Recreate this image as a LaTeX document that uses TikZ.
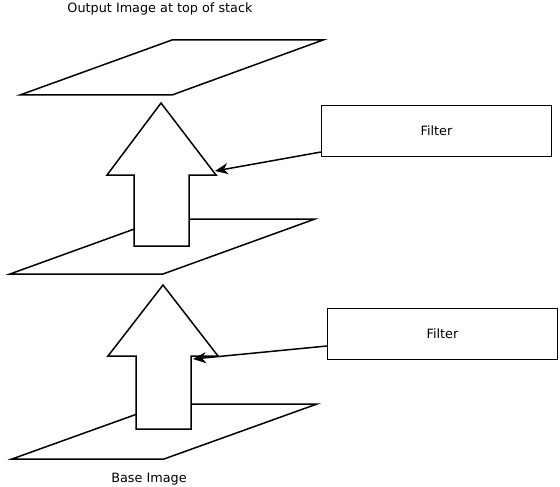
\documentclass[tikz,border=0pt]{standalone}
\usepackage{fontspec}
\setmainfont{DejaVu Sans}
\usetikzlibrary{arrows.meta}
\begin{document}
\begin{tikzpicture}[
        x=1pt, y=-1pt,
        every node/.style={font=\fontsize{12.8}{15}\selectfont},
        plane/.style={draw, line width=1.5pt, line join=miter},
        uparrow/.style={draw, fill=white, line width=1.5pt},
        filterbox/.style={draw, line width=1.5pt, minimum width=230pt, minimum height=51pt, inner sep=0pt},
        feed/.style={draw, line width=1.5pt, -{Stealth[length=13pt, width=11pt, inset=4pt]}},
    ]
    \useasboundingbox (0,0) rectangle (560,487);
    % image planes
    \draw[plane] (20,95) -- (172,40) -- (323,40) -- (172,95) -- cycle;
    \draw[plane] (10,274) -- (162,219) -- (315,219) -- (163,274) -- cycle;
    \draw[plane] (12,459) -- (165,404) -- (317,404) -- (164,459) -- cycle;
    % block arrows
    \draw[uparrow] (161,103) -- (216,175) -- (189,175) -- (189,246) -- (134,246) -- (134,175) -- (107,175) -- cycle;
    \draw[uparrow] (163,285) -- (218,356) -- (191,356) -- (191,429) -- (136,429) -- (136,356) -- (108,356) -- cycle;
    \coordinate (in1) at (215,171);
    \coordinate (in2) at (193,359);
    % filters
    \node[filterbox] (filter1) at (436.5,131) {Filter};
    \node[filterbox] (filter2) at (442.5,334) {Filter};
    \coordinate (out1) at (321,152);
    \coordinate (out2) at (327,346);
    \draw[feed] (out1) -- (in1);
    \draw[feed] (out2) -- (in2);
    % labels
    \node (outlabel) at (160,9) {Output Image at top of stack};
    \node (baselabel) at (149,479) {Base Image};
\end{tikzpicture}
\end{document}
